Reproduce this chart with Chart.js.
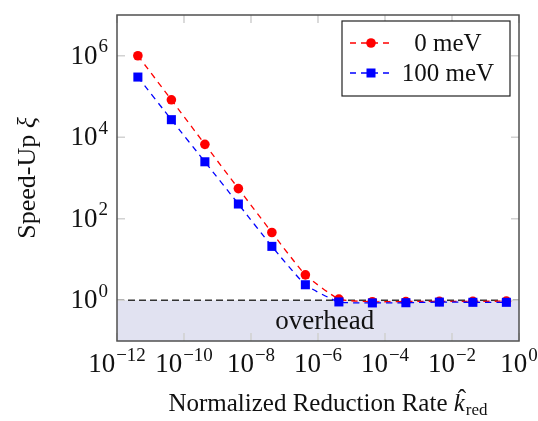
<!DOCTYPE html>
<html lang="en">
<head>
    <meta charset="UTF-8">
    <title>Speed-Up vs Reduction Rate</title>
    <script src="https://cdn.jsdelivr.net/npm/chart.js"></script>
    <style>
        body { margin: 0; background: #fff; }
        #chart { width: 538px; height: 421px; display: block; }
    </style>
</head>
<body>
    <canvas id="chart" width="538" height="421"></canvas>
    <script>
        // data
        const rates = [4.2e-12, 4.2e-11, 4.2e-10, 4.2e-9, 4.2e-8, 4.2e-7, 4.2e-6, 4.2e-5, 4.2e-4, 4.2e-3, 4.2e-2, 0.42];
        const speedup0 = [1.0e6, 8.3e4, 6.7e3, 550, 46, 4.2, 1.07, 0.92, 0.93, 0.94, 0.94, 0.95];
        const speedup100 = [3.0e5, 2.7e4, 2.5e3, 230, 21, 2.4, 0.91, 0.86, 0.87, 0.9, 0.89, 0.89];
        const seriesNames = ['0 meV', '100 meV'];
        const xTickExps = [-12, -10, -8, -6, -4, -2, 0];
        const yTickExps = [0, 2, 4, 6];
        const overheadLevel = 1;

        const FONT = '"Liberation Serif", "DejaVu Serif", serif';

        function pts(ys) {
            return rates.map((x, i) => ({ x: x, y: ys[i] }));
        }

        // draws 10^exp, anchored by align ('center' or 'right'), base line at y
        function drawPow(ctx, x, y, exp, align, size) {
            const base = '10';
            const sup = (exp < 0 ? '\u2212' : '') + Math.abs(exp);
            const supSize = Math.round(size * 0.72);
            ctx.font = size + 'px ' + FONT;
            const wb = ctx.measureText(base).width;
            ctx.font = supSize + 'px ' + FONT;
            const ws = ctx.measureText(sup).width;
            const total = wb + ws + 1;
            let x0 = align === 'right' ? x - total : x - total / 2;
            ctx.textAlign = 'left';
            ctx.textBaseline = 'alphabetic';
            ctx.font = size + 'px ' + FONT;
            ctx.fillText(base, x0, y);
            ctx.font = supSize + 'px ' + FONT;
            ctx.fillText(sup, x0 + wb + 1, y - size * 0.42);
        }

        const decor = {
            id: 'decor',
            afterDatasetsDraw(chart) {
                const ctx = chart.ctx;
                const a = chart.chartArea;
                const xs = chart.scales.x, ys = chart.scales.y;
                ctx.save();

                // tick marks
                ctx.strokeStyle = '#d2d2d2';
                ctx.lineWidth = 1.6;
                ctx.beginPath();
                xTickExps.forEach(e => {
                    const px = xs.getPixelForValue(Math.pow(10, e));
                    ctx.moveTo(px, a.bottom); ctx.lineTo(px, a.bottom - 8);
                    ctx.moveTo(px, a.top); ctx.lineTo(px, a.top + 8);
                });
                yTickExps.forEach(e => {
                    const py = ys.getPixelForValue(Math.pow(10, e));
                    ctx.moveTo(a.left, py); ctx.lineTo(a.left + 8, py);
                    ctx.moveTo(a.right, py); ctx.lineTo(a.right - 8, py);
                });
                ctx.stroke();

                // overhead label
                ctx.fillStyle = '#111';
                ctx.font = '27px ' + FONT;
                ctx.textAlign = 'center';
                ctx.textBaseline = 'middle';
                ctx.fillText('overhead', xs.getPixelForValue(Math.pow(10, -5.8)), ys.getPixelForValue(Math.pow(10, -0.52)));

                // frame
                ctx.strokeStyle = '#505050';
                ctx.lineWidth = 1.5;
                ctx.strokeRect(a.left, a.top, a.right - a.left, a.bottom - a.top);

                // tick labels
                ctx.fillStyle = '#111';
                xTickExps.forEach(e => {
                    drawPow(ctx, xs.getPixelForValue(Math.pow(10, e)), a.bottom + 31, e, 'center', 27);
                });
                yTickExps.forEach(e => {
                    drawPow(ctx, a.left - 9, ys.getPixelForValue(Math.pow(10, e)) + 8, e, 'right', 27);
                });

                // x title
                const tf = 25;
                ctx.textBaseline = 'alphabetic';
                ctx.textAlign = 'left';
                ctx.font = tf + 'px ' + FONT;
                const t1 = 'Normalized Reduction Rate ';
                const w1 = ctx.measureText(t1).width;
                ctx.font = 'italic ' + tf + 'px ' + FONT;
                const wk = ctx.measureText('k').width;
                ctx.font = '17px ' + FONT;
                const wr = ctx.measureText('red').width;
                const tw = w1 + wk + wr + 1;
                let tx = 328 - tw / 2;
                const ty = 411;
                ctx.font = tf + 'px ' + FONT;
                ctx.fillText(t1, tx, ty);
                ctx.font = 'italic ' + tf + 'px ' + FONT;
                ctx.fillText('k', tx + w1, ty);
                ctx.font = tf + 'px ' + FONT;
                ctx.fillText('\u02C6', tx + w1 + 4, ty - 4);
                ctx.font = '17px ' + FONT;
                ctx.fillText('red', tx + w1 + wk + 1, ty + 4);

                // y title
                ctx.save();
                ctx.translate(35, 178);
                ctx.rotate(-Math.PI / 2);
                ctx.font = '26px ' + FONT;
                const s1 = 'Speed-Up ';
                const ws1 = ctx.measureText(s1).width;
                ctx.font = 'italic 26px ' + FONT;
                const wxi = ctx.measureText('\u03BE').width;
                const sx = -(ws1 + wxi) / 2;
                ctx.font = '26px ' + FONT;
                ctx.fillText(s1, sx, 0);
                ctx.font = 'italic 26px ' + FONT;
                ctx.fillText('\u03BE', sx + ws1, 0);
                ctx.restore();

                // legend
                const lx = 342, ly = 21, lw = 168, lh = 75;
                ctx.fillStyle = '#fff';
                ctx.fillRect(lx, ly, lw, lh);
                ctx.strokeStyle = '#222';
                ctx.lineWidth = 1.2;
                ctx.strokeRect(lx, ly, lw, lh);
                const rows = [
                    { y: 43, color: '#ff0000', shape: 'circle', name: seriesNames[0] },
                    { y: 73, color: '#0000ff', shape: 'square', name: seriesNames[1] }
                ];
                rows.forEach(r => {
                    ctx.strokeStyle = r.color;
                    ctx.lineWidth = 1.3;
                    ctx.setLineDash([6, 5]);
                    ctx.beginPath();
                    ctx.moveTo(350, r.y); ctx.lineTo(390, r.y);
                    ctx.stroke();
                    ctx.setLineDash([]);
                    ctx.fillStyle = r.color;
                    if (r.shape === 'circle') {
                        ctx.beginPath();
                        ctx.arc(371, r.y, 4.8, 0, Math.PI * 2);
                        ctx.fill();
                    } else {
                        ctx.fillRect(371 - 4.5, r.y - 4.5, 9, 9);
                    }
                    ctx.fillStyle = '#111';
                    ctx.font = '25px ' + FONT;
                    ctx.textAlign = 'center';
                    ctx.textBaseline = 'middle';
                    ctx.fillText(r.name, 448, r.y + 1);
                });

                ctx.restore();
            }
        };

        const ctx = document.getElementById('chart').getContext('2d');
        new Chart(ctx, {
            type: 'line',
            data: {
                datasets: [
                    {
                        label: seriesNames[0],
                        data: pts(speedup0),
                        borderColor: '#ff0000',
                        backgroundColor: '#ff0000',
                        borderWidth: 1.3,
                        borderDash: [6, 5],
                        pointStyle: 'circle',
                        pointRadius: 4.8,
                        pointBorderWidth: 0,
                        tension: 0.15,
                        fill: false,
                        order: 2
                    },
                    {
                        label: seriesNames[1],
                        data: pts(speedup100),
                        borderColor: '#0000ff',
                        backgroundColor: '#0000ff',
                        borderWidth: 1.3,
                        borderDash: [6, 5],
                        pointStyle: 'rect',
                        pointRadius: 6.4,
                        pointBorderWidth: 0,
                        tension: 0.15,
                        fill: false,
                        order: 1
                    },
                    {
                        label: 'overhead',
                        data: [{ x: 1e-12, y: overheadLevel }, { x: 1, y: overheadLevel }],
                        borderColor: '#333',
                        backgroundColor: '#e1e2f1',
                        borderWidth: 1.5,
                        borderDash: [7, 4],
                        pointRadius: 0,
                        fill: 'start',
                        order: 3
                    }
                ]
            },
            options: {
                responsive: false,
                animation: false,
                layout: { padding: { left: 117, right: 19, top: 15, bottom: 80 } },
                plugins: { legend: { display: false }, tooltip: { enabled: false } },
                scales: {
                    x: { type: 'logarithmic', min: 1e-12, max: 1, display: false },
                    y: { type: 'logarithmic', min: 0.1, max: 1e7, display: false }
                }
            },
            plugins: [decor]
        });
    </script>
</body>
</html>
